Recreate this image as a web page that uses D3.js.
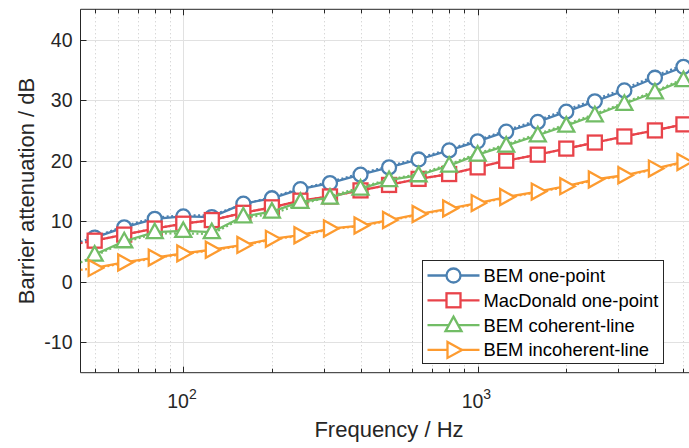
<!DOCTYPE html>
<html>
<head>
<meta charset="utf-8">
<script src="https://cdn.jsdelivr.net/npm/d3@7"></script>
<style>
  body { margin: 0; background: #fff; }
  svg { display: block; font-family: "Liberation Sans", Arial, sans-serif; }
</style>
</head>
<body>
<div id="chart"></div>
<script>
// one-third octave band centres, Hz
const bandFreq = [50, 63, 80, 100, 125, 160, 200, 250, 315, 400, 500, 630, 800,
                  1000, 1250, 1600, 2000, 2500, 3150, 4000, 5000];

const bemOnePoint   = [7.3, 9.0, 10.4, 10.8, 10.7, 12.9, 13.8, 15.3, 16.3, 17.7, 18.9, 20.2, 21.7,
                       23.2, 24.8, 26.4, 28.1, 29.8, 31.6, 33.7, 35.5];
const macDonald     = [6.8, 7.8, 8.8, 9.6, 10.2, 11.4, 12.3, 13.4, 14.1, 15.1, 16.0, 17.0, 17.8,
                       18.9, 20.0, 21.0, 22.0, 23.0, 24.0, 25.0, 26.0];
const bemCoherent   = [4.5, 6.7, 8.2, 8.4, 8.2, 10.8, 11.6, 13.2, 13.9, 15.4, 16.8, 17.6, 19.2,
                       21.0, 22.5, 24.2, 25.8, 27.5, 29.4, 31.3, 33.3];
const bemIncoherent = [2.3, 3.2, 4.0, 4.7, 5.3, 6.1, 7.1, 7.7, 8.8, 9.3, 10.2, 11.2, 12.1,
                       13.0, 14.0, 14.9, 15.8, 16.9, 17.6, 18.7, 19.8];

// fine (dotted) curves, read at the left edge and the band centres
const fineFreq = [44.8, 50, 63, 80, 100, 125, 160, 200, 250, 315, 400, 500, 630, 800,
                  1000, 1250, 1600, 2000, 2500, 3150, 4000, 5000];
const bemOnePointFine   = [6.6, 7.4, 9.2, 10.6, 11.0, 11.0, 12.8, 14.0, 15.4, 16.5, 17.9, 19.1, 20.4, 21.9,
                           23.4, 25.0, 26.7, 28.4, 30.1, 31.9, 34.0, 35.8];
const macDonaldFine     = [6.4, 6.8, 7.8, 8.8, 9.6, 10.2, 11.4, 12.3, 13.4, 14.1, 15.1, 16.0, 17.0, 17.8,
                           18.9, 20.0, 21.0, 22.0, 23.0, 24.0, 25.0, 26.0];
const bemCoherentFine   = [3.2, 4.3, 6.5, 8.0, 8.0, 7.9, 10.6, 11.2, 12.8, 14.1, 15.6, 16.9, 17.8, 19.4,
                           21.2, 22.7, 24.4, 26.0, 27.7, 29.6, 31.5, 33.5];
const bemIncoherentFine = [2.0, 2.2, 3.1, 3.9, 4.6, 5.2, 6.0, 7.0, 7.6, 8.7, 9.2, 10.1, 11.1, 12.0,
                           12.9, 13.9, 14.8, 15.7, 16.8, 17.5, 18.6, 19.7];

const seriesNames = ["BEM one-point", "MacDonald one-point", "BEM coherent-line", "BEM incoherent-line"];
const seriesColors = ["#4b80b1", "#e8434a", "#72bd66", "#fd9b30"];
const seriesMarkers = ["circle", "square", "triangle", "triangleRight"];

const yTicks = [-10, 0, 10, 20, 30, 40];
const xMajor = [100, 1000];
const xMinor = [50, 60, 70, 80, 90, 200, 300, 400, 500, 600, 700, 800, 900, 2000, 3000, 4000, 5000];

const series = [
  { name: seriesNames[0], color: seriesColors[0], marker: seriesMarkers[0], values: bemOnePoint, fine: bemOnePointFine },
  { name: seriesNames[1], color: seriesColors[1], marker: seriesMarkers[1], values: macDonald, fine: macDonaldFine },
  { name: seriesNames[2], color: seriesColors[2], marker: seriesMarkers[2], values: bemCoherent, fine: bemCoherentFine },
  { name: seriesNames[3], color: seriesColors[3], marker: seriesMarkers[3], values: bemIncoherent, fine: bemIncoherentFine }
];

const width = 689, height = 448;
const plot = { left: 80.5, right: 692, top: 9.3, bottom: 372.7 };
const axisColor = "#262626";

const svg = d3.select("#chart").append("svg")
  .attr("width", width)
  .attr("height", height);

const x = d3.scaleLog().domain([44.76, 5346]).range([plot.left, plot.right]);
const y = d3.scaleLinear().domain([-15, 45]).range([plot.bottom, plot.top]);

/* grid */
const grid = svg.append("g");
grid.selectAll(".minor")
  .data(xMinor)
  .join("line")
  .attr("x1", d => Math.round(x(d)) + 0.5).attr("x2", d => Math.round(x(d)) + 0.5)
  .attr("y1", plot.top).attr("y2", plot.bottom)
  .attr("stroke", "#c8c8c8").attr("stroke-width", 1)
  .attr("stroke-dasharray", "1 3");

grid.selectAll(".majx")
  .data(xMajor)
  .join("line")
  .attr("x1", d => Math.round(x(d)) + 0.5).attr("x2", d => Math.round(x(d)) + 0.5)
  .attr("y1", plot.top).attr("y2", plot.bottom)
  .attr("stroke", "#e1e1e1").attr("stroke-width", 1);

grid.selectAll(".majy")
  .data(yTicks)
  .join("line")
  .attr("x1", plot.left).attr("x2", plot.right)
  .attr("y1", d => Math.round(y(d)) + 0.5).attr("y2", d => Math.round(y(d)) + 0.5)
  .attr("stroke", "#e1e1e1").attr("stroke-width", 1);

/* axes */
const axes = svg.append("g").attr("stroke", axisColor).attr("stroke-width", 1);
axes.append("line").attr("x1", plot.left).attr("x2", plot.left).attr("y1", plot.top).attr("y2", plot.bottom);
axes.append("line").attr("x1", plot.left).attr("x2", plot.right).attr("y1", plot.bottom).attr("y2", plot.bottom);
axes.append("line").attr("x1", plot.left).attr("x2", plot.right).attr("y1", plot.top).attr("y2", plot.top);

axes.selectAll(".yt")
  .data(yTicks)
  .join("line")
  .attr("x1", plot.left).attr("x2", plot.left + 6)
  .attr("y1", d => Math.round(y(d)) + 0.5).attr("y2", d => Math.round(y(d)) + 0.5);

const xTickData = xMajor.map(v => ({ v, len: 6 })).concat(xMinor.map(v => ({ v, len: 4 })));
axes.selectAll(".xtb")
  .data(xTickData)
  .join("line")
  .attr("x1", d => Math.round(x(d.v)) + 0.5).attr("x2", d => Math.round(x(d.v)) + 0.5)
  .attr("y1", plot.bottom).attr("y2", d => plot.bottom - d.len);
axes.selectAll(".xtt")
  .data(xTickData)
  .join("line")
  .attr("x1", d => Math.round(x(d.v)) + 0.5).attr("x2", d => Math.round(x(d.v)) + 0.5)
  .attr("y1", plot.top).attr("y2", d => plot.top + d.len);

/* tick labels */
svg.append("g")
  .attr("font-size", "19.5px").attr("fill", axisColor).attr("text-anchor", "end")
  .selectAll("text")
  .data(yTicks)
  .join("text")
  .attr("x", plot.left - 8)
  .attr("y", d => y(d) + 7)
  .text(d => d);

const xl = svg.append("g").attr("fill", axisColor)
  .selectAll("text")
  .data(xMajor)
  .join("text")
  .attr("x", d => x(d) - 16)
  .attr("y", 408)
  .attr("font-size", "19.5px");
xl.append("tspan").text("10");
xl.append("tspan").attr("font-size", "14px").attr("dy", -9).text(d => Math.round(Math.log10(d)));

/* axis titles */
svg.append("text")
  .attr("x", (313 + 465) / 2).attr("y", 437)
  .attr("text-anchor", "middle").attr("font-size", "22px").attr("fill", axisColor)
  .text("Frequency / Hz");

svg.append("text")
  .attr("transform", `translate(34, ${(plot.top + plot.bottom) / 2}) rotate(-90)`)
  .attr("text-anchor", "middle").attr("font-size", "22px").attr("fill", axisColor)
  .text("Barrier attenuation / dB");

/* markers */
function drawMarker(g, type, color) {
  const common = s => s.attr("fill", "#fff").attr("stroke", color).attr("stroke-width", 2.3);
  if (type === "circle") common(g.append("circle").attr("r", 7));
  else if (type === "square") common(g.append("rect").attr("x", -7).attr("y", -7).attr("width", 14).attr("height", 14));
  else if (type === "triangle") common(g.append("path").attr("d", "M0,-8.5L8,6L-8,6Z"));
  else common(g.append("path").attr("d", "M8.5,0L-6,-8L-6,8Z"));
}

const plotArea = svg.append("g");
plotArea.append("clipPath").attr("id", "clip")
  .append("rect").attr("x", plot.left).attr("y", plot.top)
  .attr("width", plot.right - plot.left).attr("height", plot.bottom - plot.top);

const fineLine = d3.line().x(d => x(d[0])).y(d => y(d[1]));
const bandLine = d3.line().x(d => x(d[0])).y(d => y(d[1]));

series.forEach(s => {
  const g = plotArea.append("g").attr("clip-path", "url(#clip)");
  g.append("path")
    .datum(fineFreq.map((f, i) => [f, s.fine[i]]))
    .attr("d", fineLine)
    .attr("fill", "none").attr("stroke", s.color).attr("stroke-width", 2.2)
    .attr("stroke-dasharray", "2 2.5");
  g.append("path")
    .datum(bandFreq.map((f, i) => [f, s.values[i]]))
    .attr("d", bandLine)
    .attr("fill", "none").attr("stroke", s.color).attr("stroke-width", 2.3);
  g.selectAll(".m")
    .data(bandFreq.map((f, i) => [f, s.values[i]]))
    .join("g")
    .attr("transform", d => `translate(${x(d[0])}, ${y(d[1])})`)
    .each(function () { drawMarker(d3.select(this), s.marker, s.color); });
});

/* legend */
const legend = svg.append("g").attr("transform", "translate(422.5, 260.5)");
legend.append("rect")
  .attr("width", 241).attr("height", 103)
  .attr("fill", "#fff").attr("stroke", axisColor).attr("stroke-width", 1);

const rows = legend.selectAll(".row")
  .data(series)
  .join("g")
  .attr("transform", (d, i) => `translate(0, ${15 + i * 24.8})`);
rows.append("line")
  .attr("x1", 5).attr("x2", 57)
  .attr("stroke", d => d.color).attr("stroke-width", 2.3);
rows.append("g")
  .attr("transform", "translate(31, 0)")
  .each(function (d) { drawMarker(d3.select(this), d.marker, d.color); });
rows.append("text")
  .attr("x", 61).attr("y", 6.5)
  .attr("font-size", "18.4px").attr("fill", "#000")
  .text(d => d.name);
</script>
</body>
</html>
